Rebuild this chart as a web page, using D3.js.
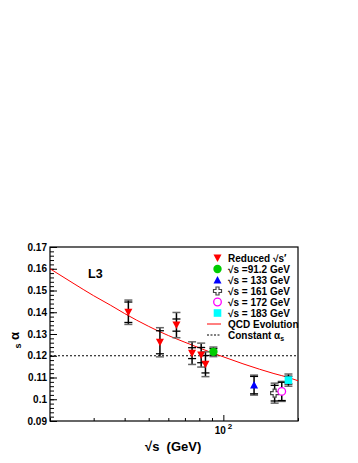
<!DOCTYPE html>
<html>
<head>
<meta charset="utf-8">
<script src="https://cdn.jsdelivr.net/npm/d3@7"></script>
<style>
  body { margin: 0; background: #fff; }
  text { font-family: "Liberation Sans", Arial, sans-serif; font-weight: bold; }
</style>
</head>
<body>
<svg id="chart" width="358" height="463"></svg>
<script>
// reduced sqrt(s') points (red down triangles)
var redE    = [41.4, 55.5, 64.7, 74.8, 81.4, 84.7];
var redA    = [0.140, 0.1262, 0.1341, 0.1212, 0.1203, 0.1161];
var redStat = [0.0047, 0.0053, 0.0028, 0.0025, 0.0035, 0.0040];
var redTot  = [0.0056, 0.0067, 0.0058, 0.0052, 0.0055, 0.0057];

// full energy points
var fullE    = [91.2, 133, 161, 172, 183];
var fullA    = [0.1218, 0.1065, 0.1028, 0.1036, 0.1088];
var fullStat = [0.0015, 0.0040, 0.0036, 0.0042, 0.0018];
var fullTot  = [0.0022, 0.0046, 0.0046, 0.0046, 0.0028];

// QCD evolution curve
var qcdE = [20, 25, 30, 35, 40, 50, 60, 70, 80, 91.2, 100, 120, 140, 160, 183, 200];
var qcdA = [0.1600, 0.1531, 0.1476, 0.1433, 0.1394, 0.1335, 0.1293, 0.1262, 0.1236, 0.1211, 0.1195, 0.1163, 0.1138, 0.1118, 0.1100, 0.1085];

var constA = 0.12;

var yTicks = [0.09, 0.10, 0.11, 0.12, 0.13, 0.14, 0.15, 0.16, 0.17];
var yTickLabels = ['0.09', '0.1', '0.11', '0.12', '0.13', '0.14', '0.15', '0.16', '0.17'];
var xMinor = [20, 30, 40, 50, 60, 70, 80, 90, 200];
var xMajor = [100];

var legendLabels = ['Reduced \u221As\u2032', '\u221As =91.2 GeV', '\u221As = 133 GeV', '\u221As = 161 GeV',
                    '\u221As = 172 GeV', '\u221As = 183 GeV', 'QCD Evolution', 'Constant \u03B1'];

var svg = d3.select('#chart');
var L = 50, R = 298, T = 247, B = 421;

var x = d3.scaleLog().domain([20, 200]).range([L, R]);
var y = d3.scaleLinear().domain([0.09, 0.17]).range([B, T]);

svg.append('defs').append('clipPath').attr('id', 'clip')
  .append('rect').attr('x', L).attr('y', T).attr('width', R - L).attr('height', B - T);

// y axis, ticks pointing inward
var yMinor = d3.range(0.09, 0.1701, 0.002);
svg.append('g').attr('transform', 'translate(' + L + ',0)')
  .call(d3.axisLeft(y).tickValues(yMinor).tickSize(-4).tickFormat(''))
  .call(g => g.select('.domain').remove())
  .selectAll('line').attr('stroke', '#000');
var yAx = svg.append('g').attr('transform', 'translate(' + L + ',0)')
  .call(d3.axisLeft(y).tickValues(yTicks).tickSize(-7).tickPadding(3)
    .tickFormat((d, i) => yTickLabels[i]));
yAx.select('.domain').remove();
yAx.selectAll('text').attr('font-size', 10).attr('font-weight', 'bold')
  .attr('font-family', '"Liberation Sans", Arial, sans-serif').attr('fill', '#000');

// x axis
svg.append('g').attr('transform', 'translate(0,' + B + ')')
  .call(d3.axisBottom(x).tickValues(xMinor).tickSize(-3).tickFormat(''))
  .call(g => g.select('.domain').remove());
svg.append('g').attr('transform', 'translate(0,' + B + ')')
  .call(d3.axisBottom(x).tickValues(xMajor).tickSize(-6).tickFormat(''))
  .call(g => g.select('.domain').remove());

xMajor.forEach(function(v) {
  svg.append('text').attr('x', x(v) - 3).attr('y', B + 12.5)
    .attr('font-size', 10).attr('text-anchor', 'middle').text('10');
  svg.append('text').attr('x', x(v) + 4.5).attr('y', B + 7.5)
    .attr('font-size', 8).text('2');
});

// frame
svg.append('rect').attr('x', L).attr('y', T).attr('width', R - L).attr('height', B - T)
  .attr('fill', 'none').attr('stroke', '#000').attr('stroke-width', 1.2);

var plot = svg.append('g').attr('clip-path', 'url(#clip)');

// constant alpha_s
plot.append('line').attr('x1', L).attr('x2', R).attr('y1', y(constA)).attr('y2', y(constA))
  .attr('stroke', '#000').attr('stroke-width', 1).attr('stroke-dasharray', '2,2');

// QCD curve
var line = d3.line().x(d => x(d[0])).y(d => y(d[1])).curve(d3.curveMonotoneX);
plot.append('path').datum(d3.zip(qcdE, qcdA)).attr('d', line)
  .attr('fill', 'none').attr('stroke', '#f00').attr('stroke-width', 1);

// error bars
function errBar(e, a, s, t) {
  var cx = x(e);
  svg.append('line').attr('x1', cx).attr('x2', cx).attr('y1', y(a + t)).attr('y2', y(a - t))
    .attr('stroke', '#000').attr('stroke-width', 1.5);
  [a + t, a - t].forEach(function(v) {
    svg.append('line').attr('x1', cx - 4).attr('x2', cx + 4).attr('y1', y(v)).attr('y2', y(v))
      .attr('stroke', '#666').attr('stroke-width', 1.5);
  });
  [a + s, a - s].forEach(function(v) {
    svg.append('line').attr('x1', cx - 4).attr('x2', cx + 4).attr('y1', y(v)).attr('y2', y(v))
      .attr('stroke', '#000').attr('stroke-width', 1.3);
  });
}
redE.forEach((e, i) => errBar(e, redA[i], redStat[i], redTot[i]));
fullE.forEach((e, i) => errBar(e, fullA[i], fullStat[i], fullTot[i]));

// markers
function marker(kind, cx, cy) {
  if (kind === 'down') {
    svg.append('path').attr('d', 'M' + (cx - 4) + ',' + (cy - 3.5) + 'L' + (cx + 4) + ',' + (cy - 3.5) + 'L' + cx + ',' + (cy + 4) + 'Z')
      .attr('fill', '#f00');
  } else if (kind === 'dot') {
    svg.append('circle').attr('cx', cx).attr('cy', cy).attr('r', 4.2).attr('fill', '#0c0');
  } else if (kind === 'up') {
    svg.append('path').attr('d', 'M' + (cx - 4) + ',' + (cy + 3.5) + 'L' + (cx + 4) + ',' + (cy + 3.5) + 'L' + cx + ',' + (cy - 4) + 'Z')
      .attr('fill', '#00f');
  } else if (kind === 'cross') {
    var a = 1.5, b = 4;
    var p = [[-a,-b],[a,-b],[a,-a],[b,-a],[b,a],[a,a],[a,b],[-a,b],[-a,a],[-b,a],[-b,-a],[-a,-a]];
    svg.append('path').attr('d', 'M' + p.map(q => (cx + q[0]) + ',' + (cy + q[1])).join('L') + 'Z')
      .attr('fill', '#fff').attr('stroke', '#444').attr('stroke-width', 1.2);
  } else if (kind === 'ring') {
    svg.append('circle').attr('cx', cx).attr('cy', cy).attr('r', 3.8)
      .attr('fill', '#fff').attr('stroke', '#f0f').attr('stroke-width', 1.3);
  } else if (kind === 'square') {
    svg.append('rect').attr('x', cx - 3.8).attr('y', cy - 3.8).attr('width', 7.6).attr('height', 7.6)
      .attr('fill', '#0ff');
  }
}
redE.forEach((e, i) => marker('down', x(e), y(redA[i])));
var fullKinds = ['dot', 'up', 'cross', 'ring', 'square'];
fullE.forEach((e, i) => marker(fullKinds[i], x(e), y(fullA[i])));

// legend
var legKinds = ['down', 'dot', 'up', 'cross', 'ring', 'square', 'qcd', 'const'];
legKinds.forEach(function(k, i) {
  var ly = 258 + i * 11;
  if (k === 'qcd') {
    svg.append('line').attr('x1', 207).attr('x2', 221).attr('y1', ly).attr('y2', ly)
      .attr('stroke', '#f00').attr('stroke-width', 1);
  } else if (k === 'const') {
    svg.append('line').attr('x1', 207).attr('x2', 221).attr('y1', ly).attr('y2', ly)
      .attr('stroke', '#000').attr('stroke-width', 1).attr('stroke-dasharray', '2,1.5');
  } else {
    marker(k, 217.5, ly);
  }
  var t = svg.append('text').attr('x', 228).attr('y', ly + 3.8).attr('font-size', 10)
    .text(legendLabels[i]);
  if (k === 'const') {
    t.append('tspan').attr('font-size', 7).attr('dy', 2.5).text('s');
  }
});

// L3 label
svg.append('text').attr('x', 88).attr('y', 277.5).attr('font-size', 12.5).text('L3');

// axis titles
svg.append('text').attr('transform', 'translate(19,336) rotate(-90)')
  .attr('text-anchor', 'middle').attr('font-size', 13).attr('font-weight', 'normal')
  .attr('font-family', '"DejaVu Serif", serif').text('\u03B1');
svg.append('text').attr('transform', 'translate(21,346) rotate(-90)')
  .attr('text-anchor', 'middle').attr('font-size', 9).text('s');

svg.append('text').attr('x', 145).attr('y', 451).attr('font-size', 13)
  .style('white-space', 'pre').text('\u221As  (GeV)');
</script>
</body>
</html>
